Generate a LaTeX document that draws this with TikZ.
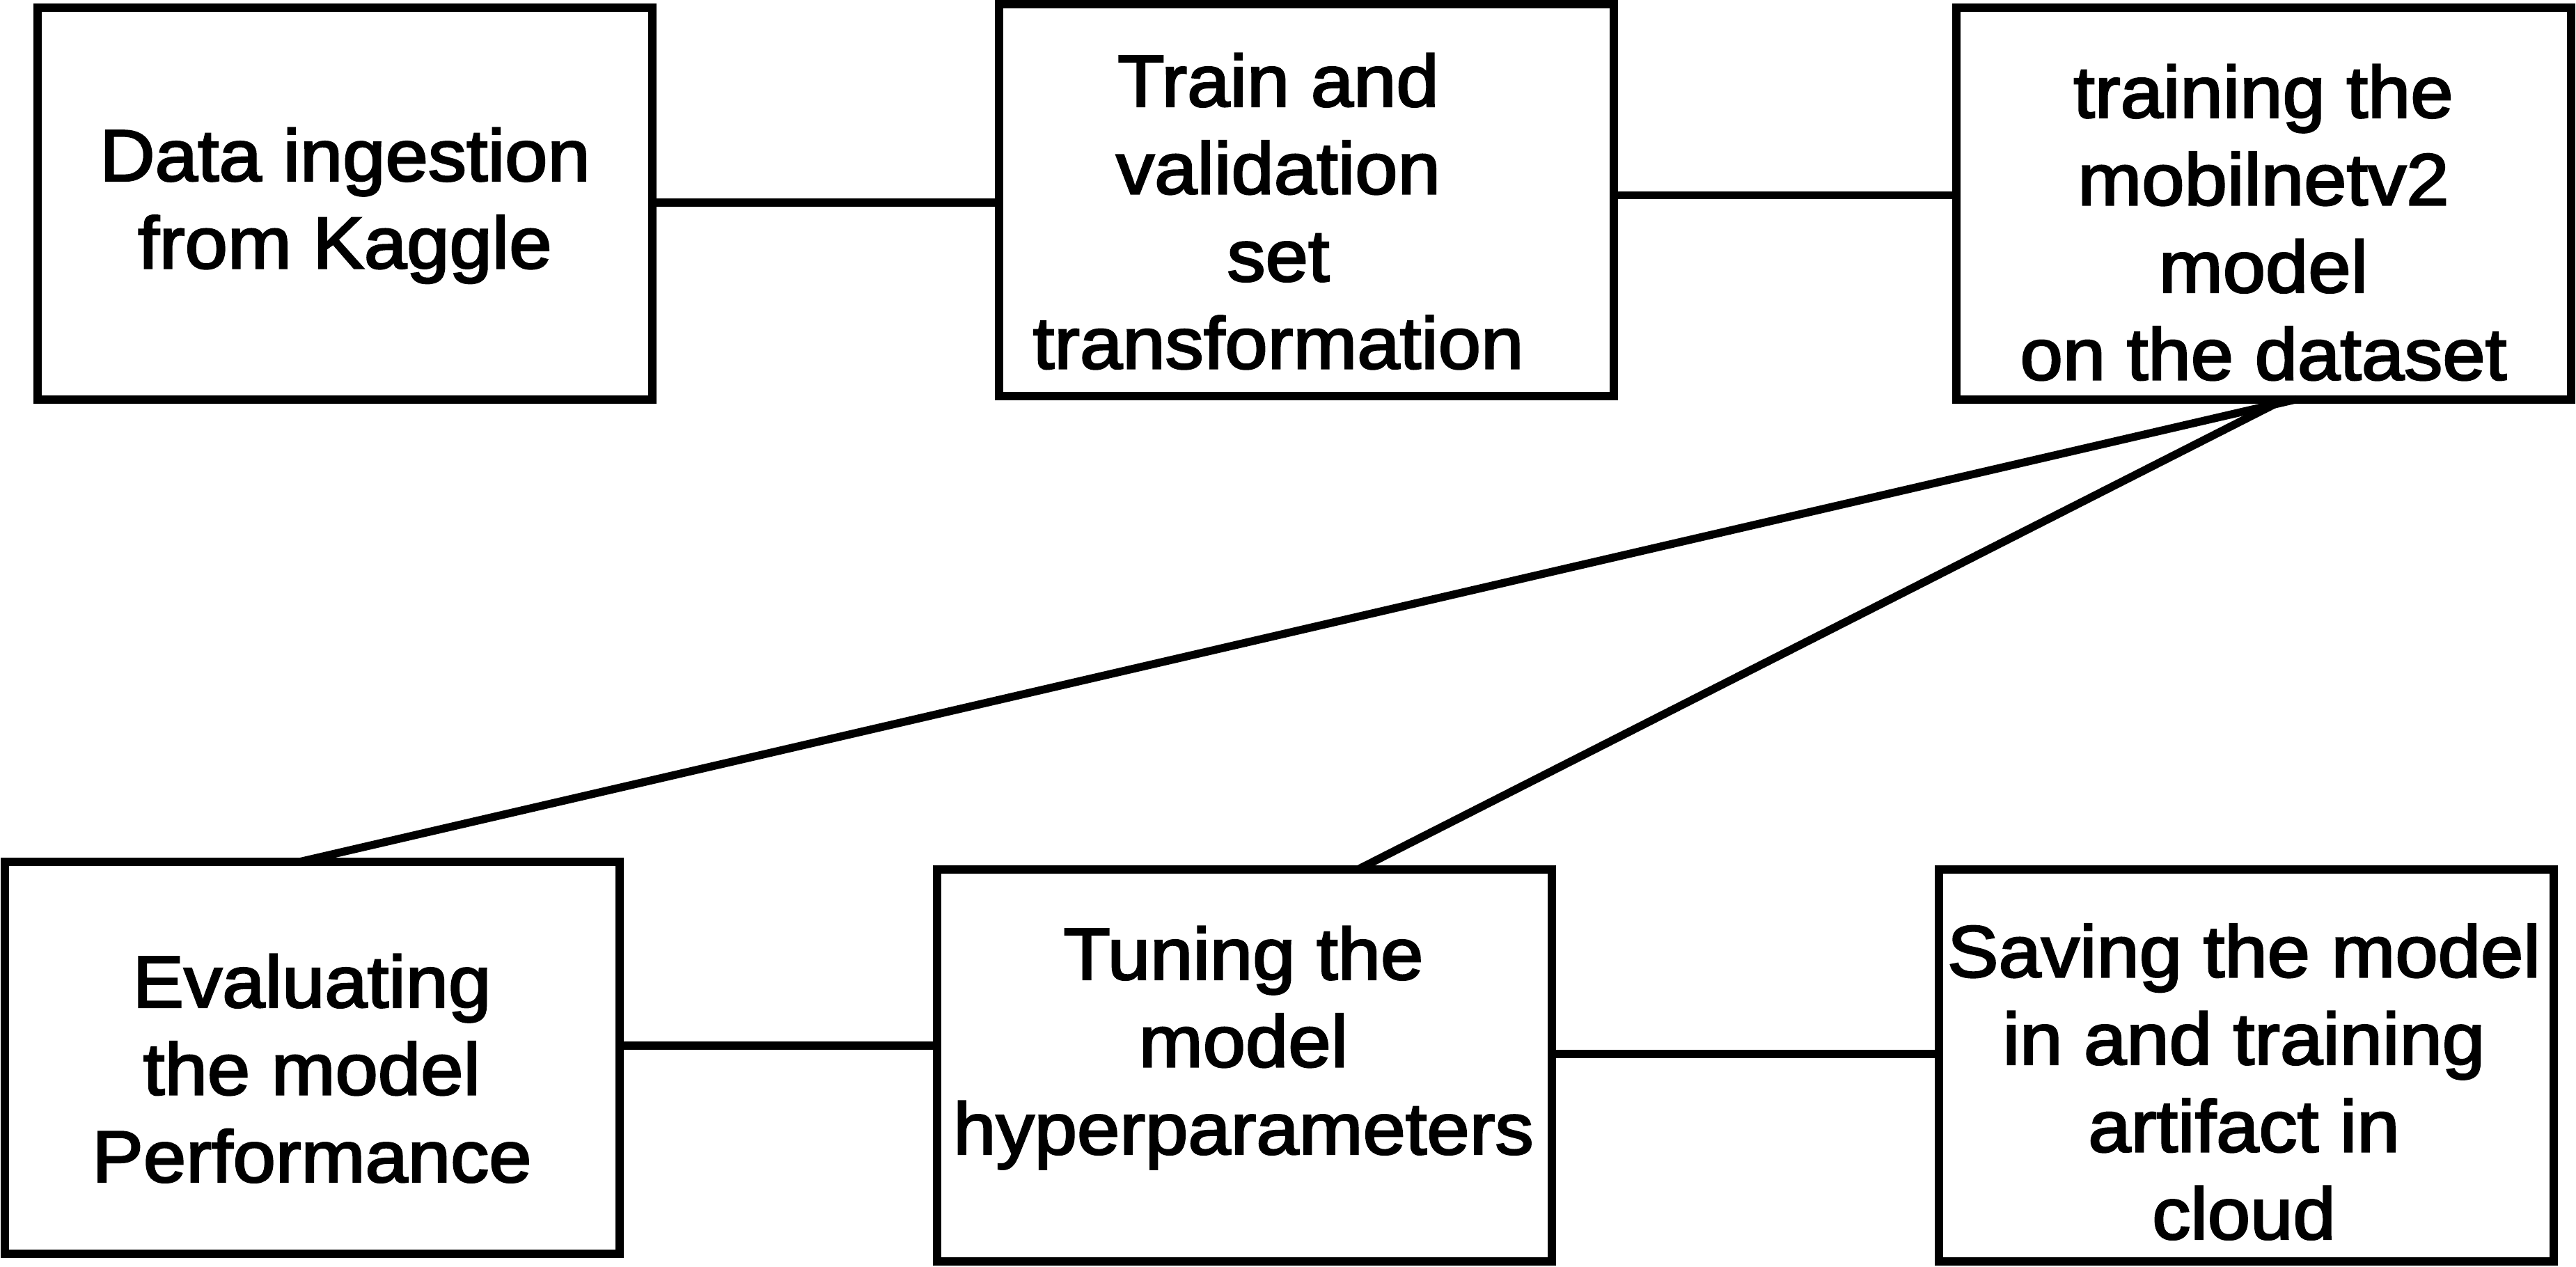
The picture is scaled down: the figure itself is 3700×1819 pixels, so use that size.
\documentclass[tikz,border=0pt]{standalone}
\usepackage{fontspec}
\setmainfont{Liberation Sans}[FakeStretch=1.05,FakeBold=2.5]
\usetikzlibrary{calc}
\tikzset{
  box/.style={draw=black, line width=1.2mm, minimum width=88.3mm, minimum height=56.3mm, inner sep=0pt, outer sep=0pt},
  lbl/.style={align=center, inner sep=0pt, anchor=north, font=\fontsize{29.88pt}{35.72pt}\selectfont},
  conn/.style={draw=black, line width=1.15mm},
}
\begin{document}
\begin{tikzpicture}[x=0.1mm, y=-0.1mm]
\useasboundingbox (0,0) rectangle (3700,1819);
% boxes
\node[box] (b1) at (495.5,292) {};
\node[box] (b2) at (1876,287.5) {};
\node[box] (b3) at (3251,292) {};
\node[box] (b4) at (448,1519.5) {};
\node[box] (b5) at (1787,1530.5) {};
\node[box] (b6) at (3226,1530.5) {};
% texts
\node[lbl] (t1) at (495.5,171.15) {\strut Data ingestion\\from Kaggle};
\node[lbl] (t2) at (1836,64.15) {\strut Train and\\validation\\set\\transformation};
\node[lbl] (t3) at (3251,80.15) {\strut training the\\mobilnetv2\\model\\on the dataset};
\node[lbl] (t4) at (448,1358.15) {\strut Evaluating\\the model\\Performance};
\node[lbl] (t5) at (1786,1318.15) {\strut Tuning the\\model\\hyperparameters};
\node[lbl] (t6) at (3223,1314.65) {\strut Saving the model\\in and training\\artifact in\\cloud};
% connector levels
\coordinate (y12) at (0,291);
\coordinate (y23) at (0,280.5);
\coordinate (y45) at (0,1502);
\coordinate (y56) at (0,1514);
\draw[conn] (b1.east |- y12) -- (b2.west |- y12);
\draw[conn] (b2.east |- y23) -- (b3.west |- y23);
\draw[conn] (b4.east |- y45) -- (b5.west |- y45);
\draw[conn] (b5.east |- y56) -- (b6.west |- y56);
\draw[conn] ($(b3.south west)!0.554!(b3.south east)$) -- ($(b4.north west)!0.48!(b4.north east)$);
\draw[conn] ($(b3.south west)!0.534!(b3.south east)$) -- ($(b5.north west)!0.685!(b5.north east)$);
\end{tikzpicture}
\end{document}
